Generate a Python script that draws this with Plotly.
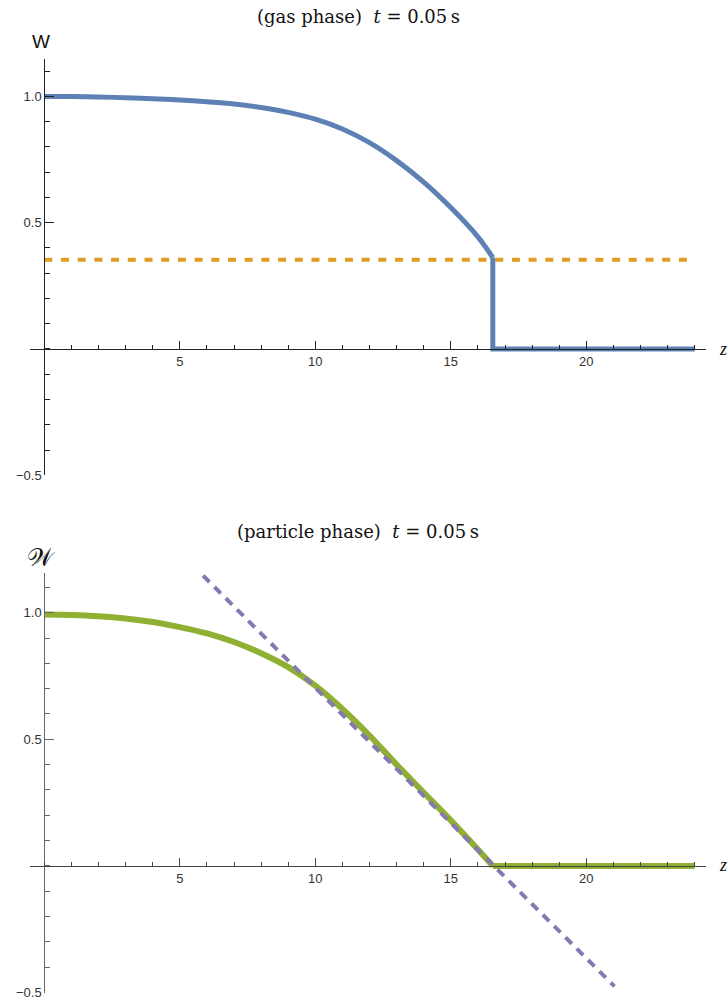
import plotly.graph_objects as go

# ---------------- data ----------------
gas_z = [0, 1, 2, 3, 4, 5, 6, 7, 8, 9, 10, 11, 12, 13, 14, 15, 16, 16.55]
gas_W = [1.0, 0.9995, 0.998, 0.995, 0.991, 0.986, 0.979, 0.970, 0.956, 0.937, 0.91,
         0.871, 0.817, 0.746, 0.661, 0.560, 0.444, 0.362]
gas_step_z = [16.55, 16.55, 24]
gas_step_W = [0.362, 0.0, 0.0]
gas_level_z = [0, 24]
gas_level_W = [0.353, 0.353]

part_z = [0, 1, 2, 3, 4, 5, 6, 7, 8, 9, 10, 11, 12, 13, 14, 15, 16, 16.55]
part_W = [0.993, 0.991, 0.986, 0.977, 0.963, 0.943, 0.918, 0.884, 0.84, 0.785, 0.712,
          0.62, 0.515, 0.40, 0.29, 0.18, 0.065, 0.0]
part_flat_z = [16.55, 24]
part_flat_W = [0.0, 0.0]
tangent_z = [5.86, 21.04]
tangent_W = [1.146, -0.475]

x_ticks = [5, 10, 15, 20]
x_ticktext = ["5", "10", "15", "20"]
y_ticks = [-0.5, 0.5, 1.0]
y_ticktext = ["\u22120.5", "0.5", "1.0"]

titles = ["(gas phase)\u00a0\u00a0<i>t</i> = 0.05\u2009s",
          "(particle phase)\u00a0\u00a0<i>t</i> = 0.05\u2009s"]
ylabels = ["W", "\U0001D4B2"]

BLUE = "#5E81B5"
ORANGE = "#E19C24"
GREEN = "#8FB032"
PURPLE = "#8778B3"

W_PX, H_PX = 727, 1005
PLOT_LEFT, PLOT_RIGHT = 30, 706
ML = PLOT_LEFT
MR = W_PX - PLOT_RIGHT
PW = W_PX - ML - MR


def px(xw):
    return (xw - ML) / PW


def py(yw):
    return 1 - yw / H_PX


fig = go.Figure()

# top panel
fig.add_trace(go.Scatter(x=gas_level_z, y=gas_level_W, mode="lines",
                         line=dict(color=ORANGE, width=4, dash="8px,8.7px"),
                         xaxis="x", yaxis="y", hoverinfo="skip"))
fig.add_trace(go.Scatter(x=gas_z, y=gas_W, mode="lines",
                         line=dict(color=BLUE, width=5, shape="spline"),
                         xaxis="x", yaxis="y", hoverinfo="skip"))
fig.add_trace(go.Scatter(x=gas_step_z, y=gas_step_W, mode="lines",
                         line=dict(color=BLUE, width=5),
                         xaxis="x", yaxis="y", hoverinfo="skip"))

# bottom panel
fig.add_trace(go.Scatter(x=part_z, y=part_W, mode="lines",
                         line=dict(color=GREEN, width=6, shape="spline"),
                         xaxis="x2", yaxis="y2", hoverinfo="skip"))
fig.add_trace(go.Scatter(x=part_flat_z, y=part_flat_W, mode="lines",
                         line=dict(color=GREEN, width=6),
                         xaxis="x2", yaxis="y2", hoverinfo="skip"))
fig.add_trace(go.Scatter(x=tangent_z, y=tangent_W, mode="lines",
                         line=dict(color=PURPLE, width=4, dash="9px,7px"),
                         xaxis="x2", yaxis="y2", hoverinfo="skip"))

y0_w = 44.3      # pixel x of z = 0
ppu = 27.1
x_range = [-(y0_w - PLOT_LEFT) / ppu, (PLOT_RIGHT - y0_w) / ppu]
ypos = (y0_w - PLOT_LEFT) / PW

tickfont = dict(family="Liberation Sans, Arial, sans-serif", size=13, color="#333")


def xaxis_cfg(pos, color):
    return dict(range=x_range, domain=[0, 1], anchor="free", position=pos,
                automargin=False,
                showgrid=False, zeroline=False, showline=True, linecolor=color,
                linewidth=1, ticks="inside", ticklen=8, tickwidth=1, tickcolor=color,
                tickmode="array", tickvals=x_ticks, ticktext=x_ticktext,
                tickfont=tickfont,
                minor=dict(tickmode="linear", tick0=0, dtick=1, ticks="inside",
                           ticklen=4, tickwidth=1, tickcolor=color))


def yaxis_cfg(dom, rng, color):
    return dict(range=rng, domain=dom, anchor="free", position=ypos,
                automargin=False,
                showgrid=False, zeroline=False, showline=True, linecolor=color,
                linewidth=1, ticks="inside", ticklen=9, tickwidth=1, tickcolor=color,
                tickmode="array", tickvals=y_ticks, ticktext=y_ticktext,
                tickfont=tickfont,
                minor=dict(tickmode="linear", tick0=0, dtick=0.1, ticks="inside",
                           ticklen=5, tickwidth=1, tickcolor=color))


top_dom = [py(475.25), py(58.6)]
bot_dom = [py(992.65), py(573.4)]

fig.update_layout(
    width=W_PX, height=H_PX,
    margin=dict(l=ML, r=MR, t=0, b=0, pad=0, autoexpand=False),
    paper_bgcolor="white", plot_bgcolor="white",
    showlegend=False,
    xaxis=xaxis_cfg(py(349.3), "#222"),
    yaxis=yaxis_cfg(top_dom, [-0.5, 1.15], "#222"),
    xaxis2=xaxis_cfg(py(866), "#444"),
    yaxis2=yaxis_cfg(bot_dom, [-0.5, 1.155], "#666"),
)

serif = "DejaVu Serif, Liberation Serif, serif"
ann = []
for txt, yw in zip(titles, [16, 531]):
    ann.append(dict(text=txt, x=px(358), y=py(yw), xref="paper", yref="paper",
                    xanchor="center", yanchor="middle", showarrow=False,
                    font=dict(family=serif, size=18, color="#111")))
ann.append(dict(text=ylabels[0], x=px(41), y=py(41), xref="paper", yref="paper",
                xanchor="center", yanchor="middle", showarrow=False,
                font=dict(family="Liberation Sans, Arial, sans-serif", size=19, color="#111")))
ann.append(dict(text=ylabels[1], x=px(41), y=py(557), xref="paper", yref="paper",
                xanchor="center", yanchor="middle", showarrow=False,
                font=dict(family="DejaVu Serif, DejaVu Sans, serif", size=25, color="#111")))
for yw in [349, 865]:
    ann.append(dict(text="<i>z</i>", x=px(717), y=py(yw), xref="paper", yref="paper",
                    xanchor="left", yanchor="middle", showarrow=False,
                    font=dict(family="Liberation Serif, serif", size=18, color="#111")))
fig.update_layout(annotations=ann)

fig.write_html("out.html",
               config={"displayModeBar": False, "staticPlot": True},
               post_script="document.body.style.margin='0';"
                           "document.body.style.overflow='hidden';")
